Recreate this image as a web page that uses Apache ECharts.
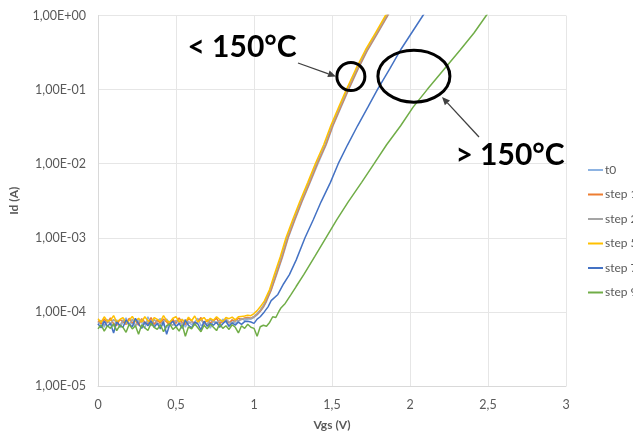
<!DOCTYPE html>
<html><head><meta charset="utf-8">
<script src="https://cdn.jsdelivr.net/npm/echarts@6/dist/echarts.min.js"></script>
<style>html,body{margin:0;padding:0;background:#fff}#c{width:633px;height:436px}</style>
</head><body><div id="c"></div><script>
// ---- data ----
const seriesNames = ['t0', 'step 1', 'step 2', 'step 5', 'step 7', 'step 9'];
const xTickLabels = ['0', '0,5', '1', '1,5', '2', '2,5', '3'];
const yTickLabels = ['1,00E-05', '1,00E-04', '1,00E-03', '1,00E-02', '1,00E-01', '1,00E+00'];

// common Vgs grid for the noise floor (V)
const vgsFloor = [0,0.02,0.04,0.06,0.08,0.10,0.12,0.14,0.16,0.18,0.20,0.22,0.24,0.26,0.28,0.30,0.32,0.34,0.36,0.38,0.40,0.42,0.44,0.46,0.48,0.50,0.52,0.54,0.56,0.58,0.60,0.62,0.64,0.66,0.68,0.70,0.72,0.74,0.76,0.78,0.80,0.82,0.84,0.86,0.88,0.90,0.92,0.94,0.96];

// noise floor Id (A)
const floorT0 = [6.7e-5,7.6e-5,6.2e-5,7.9e-5,7.0e-5,6.4e-5,7.8e-5,6.1e-5,7.3e-5,8.3e-5,6.6e-5,7.1e-5,6.3e-5,7.9e-5,7.2e-5,6.0e-5,8.6e-5,7.0e-5,6.5e-5,7.6e-5,8.1e-5,6.6e-5,6.1e-5,7.4e-5,7.9e-5,6.4e-5,7.0e-5,8.0e-5,6.2e-5,7.5e-5,6.7e-5,7.3e-5,8.2e-5,6.5e-5,7.0e-5,7.8e-5,6.0e-5,7.6e-5,7.1e-5,6.6e-5,8.0e-5,7.3e-5,6.4e-5,7.8e-5,7.0e-5,7.5e-5,8.1e-5,7.7e-5,8.0e-5];
const floorS1 = [7.6e-5,6.9e-5,8.0e-5,7.1e-5,8.3e-5,6.9e-5,6.6e-5,7.9e-5,7.4e-5,6.8e-5,8.2e-5,7.1e-5,7.6e-5,6.6e-5,8.1e-5,7.3e-5,6.9e-5,8.4e-5,6.8e-5,7.7e-5,7.1e-5,8.0e-5,7.3e-5,6.6e-5,7.9e-5,7.0e-5,8.3e-5,7.1e-5,6.8e-5,8.1e-5,7.6e-5,6.9e-5,7.4e-5,8.4e-5,6.8e-5,7.8e-5,7.1e-5,7.6e-5,8.2e-5,7.0e-5,7.4e-5,8.0e-5,7.1e-5,7.8e-5,7.5e-5,8.2e-5,7.9e-5,8.3e-5,8.4e-5];
const floorS2 = [7.0e-5,7.7e-5,6.6e-5,7.5e-5,6.9e-5,7.9e-5,7.2e-5,6.5e-5,7.8e-5,7.0e-5,6.8e-5,8.0e-5,6.6e-5,7.3e-5,7.8e-5,6.8e-5,7.5e-5,6.5e-5,7.9e-5,7.1e-5,6.8e-5,7.5e-5,8.0e-5,7.0e-5,6.6e-5,7.7e-5,7.2e-5,6.8e-5,7.9e-5,7.0e-5,7.4e-5,6.6e-5,7.3e-5,7.8e-5,7.0e-5,6.8e-5,7.9e-5,7.4e-5,7.0e-5,7.7e-5,7.2e-5,8.0e-5,7.3e-5,7.0e-5,7.8e-5,7.5e-5,8.0e-5,8.1e-5,8.2e-5];
const floorS5 = [8.1e-5,7.2e-5,8.6e-5,7.5e-5,7.7e-5,8.9e-5,7.3e-5,7.9e-5,8.4e-5,7.1e-5,7.7e-5,8.7e-5,7.4e-5,8.2e-5,7.3e-5,8.6e-5,7.6e-5,7.1e-5,8.4e-5,7.9e-5,7.4e-5,8.9e-5,7.6e-5,7.2e-5,8.2e-5,8.6e-5,7.4e-5,7.9e-5,7.1e-5,8.5e-5,7.6e-5,8.8e-5,7.3e-5,7.9e-5,8.4e-5,7.4e-5,8.2e-5,7.7e-5,8.6e-5,7.9e-5,7.4e-5,8.4e-5,8.1e-5,8.5e-5,7.8e-5,8.6e-5,8.7e-5,8.8e-5,9.0e-5];
const floorS7 = [6.9e-5,6.1e-5,7.5e-5,6.4e-5,7.0e-5,5.2e-5,7.3e-5,6.6e-5,6.2e-5,7.8e-5,6.8e-5,6.3e-5,8.2e-5,6.9e-5,6.0e-5,7.3e-5,6.5e-5,7.6e-5,6.2e-5,7.0e-5,5.9e-5,7.4e-5,5.0e-5,6.8e-5,7.5e-5,6.3e-5,7.0e-5,6.0e-5,7.7e-5,6.6e-5,6.1e-5,7.3e-5,6.9e-5,5.7e-5,7.5e-5,6.4e-5,7.0e-5,6.6e-5,7.3e-5,6.2e-5,6.9e-5,7.6e-5,6.4e-5,7.1e-5,6.6e-5,7.3e-5,6.8e-5,7.4e-5,7.5e-5];
const floorS9 = [5.9e-5,6.7e-5,5.5e-5,6.5e-5,6.0e-5,6.9e-5,5.6e-5,6.6e-5,6.2e-5,5.3e-5,6.8e-5,5.9e-5,6.5e-5,5.0e-5,6.7e-5,6.1e-5,5.6e-5,7.0e-5,6.2e-5,5.8e-5,6.7e-5,5.4e-5,6.5e-5,6.9e-5,5.8e-5,6.3e-5,5.5e-5,6.7e-5,4.7e-5,6.3e-5,5.9e-5,6.9e-5,6.1e-5,5.4e-5,6.6e-5,5.9e-5,6.8e-5,6.2e-5,5.6e-5,6.9e-5,6.0e-5,6.5e-5,5.8e-5,6.7e-5,6.2e-5,5.2e-5,6.5e-5,6.0e-5,6.8e-5];

// turn-on part: Vgs (V) and Id (A)
const vgsRiseT0 = [0.98,1.00,1.02,1.04,1.06,1.08,1.112,1.145,1.183,1.22,1.263,1.308,1.36,1.41,1.463,1.507,1.558,1.607,1.668,1.73,1.793,1.858,1.90];
const idRiseT0  = [8.0e-5,8.4e-5,9.1e-5,1.01e-4,1.15e-4,1.38e-4,2.0e-4,3.18e-4,5.5e-4,1.0e-3,1.75e-3,3.06e-3,5.6e-3,1.0e-2,1.8e-2,3.25e-2,5.8e-2,0.1,0.19,0.345,0.58,1.0,1.35];
const vgsRiseS1 = [0.98,1.00,1.02,1.04,1.06,1.078,1.11,1.142,1.18,1.217,1.26,1.305,1.357,1.405,1.46,1.504,1.555,1.604,1.665,1.727,1.79,1.855,1.90];
const idRiseS1  = [8.2e-5,8.6e-5,9.3e-5,1.03e-4,1.18e-4,1.40e-4,2.0e-4,3.18e-4,5.5e-4,1.0e-3,1.75e-3,3.06e-3,5.6e-3,1.0e-2,1.8e-2,3.25e-2,5.8e-2,0.1,0.19,0.345,0.58,1.0,1.35];
const vgsRiseS2 = [0.98,1.00,1.02,1.04,1.06,1.073,1.105,1.137,1.175,1.212,1.255,1.30,1.352,1.40,1.455,1.499,1.55,1.599,1.66,1.722,1.785,1.85,1.90];
const idRiseS2  = [8.1e-5,8.7e-5,9.5e-5,1.06e-4,1.22e-4,1.40e-4,2.0e-4,3.18e-4,5.5e-4,1.0e-3,1.75e-3,3.06e-3,5.6e-3,1.0e-2,1.8e-2,3.25e-2,5.8e-2,0.1,0.19,0.345,0.58,1.0,1.4];
const vgsRiseS5 = [0.98,1.00,1.02,1.04,1.066,1.10,1.13,1.168,1.205,1.248,1.293,1.345,1.393,1.447,1.492,1.543,1.592,1.653,1.715,1.778,1.843,1.89];
const idRiseS5  = [8.9e-5,9.5e-5,1.04e-4,1.17e-4,1.40e-4,2.0e-4,3.18e-4,5.5e-4,1.0e-3,1.75e-3,3.06e-3,5.6e-3,1.0e-2,1.8e-2,3.25e-2,5.8e-2,0.1,0.19,0.345,0.58,1.0,1.35];
const vgsRiseS7 = [0.98,1.00,1.02,1.04,1.066,1.09,1.11,1.153,1.19,1.227,1.27,1.327,1.38,1.43,1.49,1.54,1.60,1.664,1.73,1.791,1.87,1.94,2.01,2.083,2.13];
const idRiseS7  = [7.3e-5,7.0e-5,8.0e-5,8.6e-5,1.0e-4,1.17e-4,1.42e-4,1.72e-4,2.4e-4,3.18e-4,5.0e-4,1.0e-3,1.75e-3,3.06e-3,5.6e-3,1.0e-2,1.8e-2,3.25e-2,5.8e-2,0.1,0.19,0.345,0.58,1.0,1.4];
const vgsRiseS9 = [0.98,1.00,1.02,1.04,1.06,1.08,1.10,1.12,1.14,1.16,1.174,1.20,1.238,1.27,1.319,1.39,1.461,1.53,1.604,1.69,1.77,1.85,1.94,2.02,2.11,2.22,2.323,2.41,2.489,2.55];
const idRiseS9  = [6.2e-5,6.0e-5,4.7e-5,6.3e-5,6.6e-5,6.4e-5,7.2e-5,8.6e-5,8.4e-5,1.02e-4,1.14e-4,1.30e-4,1.72e-4,2.2e-4,3.18e-4,5.6e-4,1.0e-3,1.75e-3,3.06e-3,5.6e-3,1.0e-2,1.8e-2,3.25e-2,5.8e-2,0.1,0.19,0.345,0.58,1.0,1.5];

const floors = [floorT0, floorS1, floorS2, floorS5, floorS7, floorS9];
const riseX = [vgsRiseT0, vgsRiseS1, vgsRiseS2, vgsRiseS5, vgsRiseS7, vgsRiseS9];
const riseY = [idRiseT0, idRiseS1, idRiseS2, idRiseS5, idRiseS7, idRiseS9];
const colors = ['#8db3e2', '#ed7d31', '#a5a5a5', '#ffc000', '#4472c4', '#70ad47'];

// ---- chart ----
const chart = echarts.init(document.getElementById('c'), null, {renderer: 'canvas'});
const FONT = 'Lato, "Liberation Sans", sans-serif';

const series = seriesNames.map((name, k) => ({
  name: name,
  type: 'line',
  showSymbol: false,
  symbol: 'none',
  clip: true,
  lineStyle: {width: 1.5, color: colors[k]},
  itemStyle: {color: colors[k]},
  data: vgsFloor.map((v, i) => [v, floors[k][i]])
        .concat(riseX[k].map((v, i) => [v, riseY[k][i]]))
}));

chart.setOption({
  animation: false,
  backgroundColor: '#ffffff',
  grid: {left: 96, right: 67, top: 15.5, bottom: 47, containLabel: false},
  legend: {
    orient: 'vertical',
    left: 583, top: 158,
    itemWidth: 15, itemHeight: 2,
    itemGap: 10.5,
    icon: 'rect',
    textStyle: {color: '#595959', fontSize: 12, fontFamily: FONT, lineHeight: 14, padding: [0,0,0,-3]},
    data: seriesNames
  },
  xAxis: {
    type: 'value', min: 0, max: 3, interval: 0.5,
    name: 'Vgs (V)', nameLocation: 'middle', nameGap: 33,
    nameTextStyle: {color: '#595959', fontWeight: 'bold', fontSize: 12, fontFamily: FONT},
    axisLine: {show: true, lineStyle: {color: '#d9d9d9'}},
    axisTick: {show: false},
    axisLabel: {color: '#595959', fontSize: 12.5, fontFamily: FONT, margin: 12,
      formatter: v => xTickLabels[Math.round(v / 0.5)]},
    splitLine: {show: true, lineStyle: {color: '#e6e6e6'}}
  },
  yAxis: {
    type: 'log', logBase: 10, min: 1e-5, max: 1,
    name: 'Id (A)', nameLocation: 'middle', nameGap: 78,
    nameTextStyle: {color: '#595959', fontWeight: 'bold', fontSize: 12, fontFamily: FONT},
    axisLine: {show: true, lineStyle: {color: '#d9d9d9'}},
    axisTick: {show: false},
    axisLabel: {color: '#595959', fontSize: 12.5, fontFamily: FONT, margin: 12,
      formatter: v => yTickLabels[Math.round(Math.log10(v)) + 5]},
    splitLine: {show: true, lineStyle: {color: '#e6e6e6'}},
    minorTick: {show: false}
  },
  series: series
});

// ---- annotations ----
function arrow(x1, y1, x2, y2) {
  const dx = x2 - x1, dy = y2 - y1, L = Math.hypot(dx, dy);
  const ux = dx / L, uy = dy / L, hl = 8, hw = 3.5;
  const bx = x2 - ux * hl, by = y2 - uy * hl;
  return [
    {type: 'line', shape: {x1: x1, y1: y1, x2: bx, y2: by}, style: {stroke: '#404040', lineWidth: 1.3}, z: 100},
    {type: 'polygon', shape: {points: [[x2, y2], [bx - uy * hw, by + ux * hw], [bx + uy * hw, by - ux * hw]]}, style: {fill: '#404040'}, z: 100}
  ];
}
const cSmall = chart.convertToPixel({xAxisIndex: 0, yAxisIndex: 0}, [1.621, 0.15]);
const cBig = chart.convertToPixel({xAxisIndex: 0, yAxisIndex: 0}, [2.025, 0.152]);
chart.setOption({
  graphic: [
    {type: 'circle', shape: {cx: cSmall[0], cy: cSmall[1], r: 14}, style: {fill: 'none', stroke: '#000', lineWidth: 3}, z: 100},
    {type: 'ellipse', shape: {cx: cBig[0], cy: cBig[1], rx: 36, ry: 26}, style: {fill: 'none', stroke: '#000', lineWidth: 3}, z: 100},
    {type: 'text', x: 242, y: 47, style: {text: '< 150°C', font: 'bold 30px ' + FONT, fill: '#000', textAlign: 'center', textVerticalAlign: 'middle'}, z: 100},
    {type: 'text', x: 510, y: 155, style: {text: '> 150°C', font: 'bold 30px ' + FONT, fill: '#000', textAlign: 'center', textVerticalAlign: 'middle'}, z: 100}
  ].concat(arrow(298, 63, 336, 76.5)).concat(arrow(479, 137, 442, 97))
});
</script></body></html>
